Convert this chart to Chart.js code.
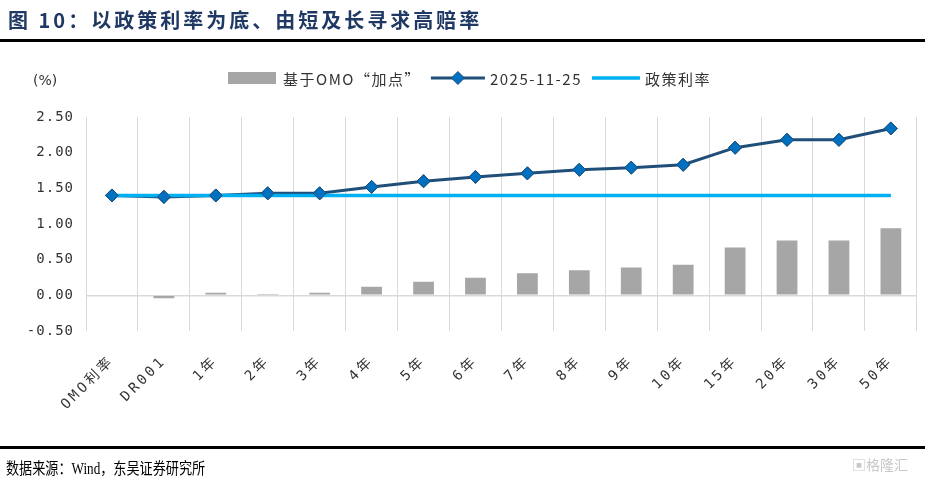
<!DOCTYPE html>
<html>
<head>
<meta charset="utf-8">
<script src="https://cdn.jsdelivr.net/npm/chart.js@4/dist/chart.umd.min.js"></script>
<style>
  html, body { margin: 0; padding: 0; background: #fff; }
  #wrap { position: relative; width: 925px; height: 480px; overflow: hidden; }
  #chart { position: absolute; left: 0; top: 0; }
  .title { position: absolute; left: 8px; top: 5px; font: bold 20px 'Noto Sans CJK SC', sans-serif; letter-spacing: 3px; color: #1f3864; white-space: nowrap; }
  .rule { position: absolute; left: 0; width: 925px; height: 3px; background: #000; }
  .unit { position: absolute; left: 33px; top: 72px; font: 14px 'DejaVu Sans', sans-serif; color: #333; }
  .source { position: absolute; left: 6px; top: 455px; font: 16px 'Liberation Serif', 'Noto Sans CJK SC', serif; color: #000; white-space: nowrap; transform: scaleX(0.82); transform-origin: left top; }
  .mark { position: absolute; left: 852px; top: 454px; font: 14px 'Noto Sans CJK SC', sans-serif; color: #c8c8c8; }
</style>
</head>
<body>
<div id="wrap">
  <canvas id="chart" width="925" height="480"></canvas>
  <div class="title">图 10：以政策利率为底、由短及长寻求高赔率</div>
  <div class="rule" style="top:39px"></div>
  <div class="unit">(%)</div>
  <div class="rule" style="top:446px"></div>
  <div class="source">数据来源：Wind，东吴证券研究所</div>
  <div class="mark">▣格隆汇</div>
</div>
<script>
(function() {

  'use strict';

  var categories = ['OMO利率', 'DR001', '1年', '2年', '3年', '4年', '5年', '6年', '7年', '8年', '9年', '10年', '15年', '20年', '30年', '50年'];

  // spread over OMO, in %
  var spreadValues = [0, -0.04, 0.035, 0.02, 0.035, 0.12, 0.19, 0.245, 0.31, 0.35, 0.39, 0.43, 0.67, 0.77, 0.77, 0.94];

  // yields on 2025-11-25
  var yieldValues = [1.40, 1.38, 1.40, 1.43, 1.43, 1.52, 1.60, 1.66, 1.71, 1.76, 1.79, 1.83, 2.07, 2.18, 2.18, 2.34];

  // policy rate flat line
  var policyValues = [1.40, 1.40, 1.40, 1.40, 1.40, 1.40, 1.40, 1.40, 1.40, 1.40, 1.40, 1.40, 1.40, 1.40, 1.40, 1.40];

  var yTicks = [-0.5, 0, 0.5, 1.0, 1.5, 2.0, 2.5];

  var monoFamily = "'DejaVu Sans Mono', 'Noto Sans CJK SC', monospace";
  var legendFont = "15px 'Noto Sans CJK SC', sans-serif";

  //legend drawn by hand: box for bars, line + diamond for series
  var legendPlugin = {
    id: 'handLegend',
    afterDraw: function(chart) {
      var ctx = chart.ctx;
      var sets = chart.data.datasets;
      var x = 228, y = 78;
      ctx.save();
      ctx.font = legendFont;
      ctx.letterSpacing = '1.5px';
      ctx.textBaseline = 'middle';
      sets.forEach(function(ds, i) {
        if (i === 0) {
          ctx.fillStyle = ds.backgroundColor;
          ctx.fillRect(x, y - 6, 48, 12);
          x += 55;
        } else {
          var len = i === 1 ? 54 : 48;
          ctx.strokeStyle = ds.borderColor;
          ctx.lineWidth = ds.borderWidth;
          ctx.beginPath();
          ctx.moveTo(x, y);
          ctx.lineTo(x + len, y);
          ctx.stroke();
          if (ds.pointRadius) {
            var r = ds.pointRadius, cx = x + len / 2;
            ctx.fillStyle = ds.pointBackgroundColor;
            ctx.strokeStyle = ds.pointBorderColor;
            ctx.lineWidth = ds.pointBorderWidth;
            ctx.beginPath();
            ctx.moveTo(cx, y - r);
            ctx.lineTo(cx + r, y);
            ctx.lineTo(cx, y + r);
            ctx.lineTo(cx - r, y);
            ctx.closePath();
            ctx.fill();
            ctx.stroke();
          }
          x += len + 5;
        }
        ctx.fillStyle = '#333';
        ctx.fillText(ds.label, x, y + 1);
        x += ctx.measureText(ds.label).width + 10;
      });
      ctx.restore();
    }
  };

  //spacing for y labels first, then wider spacing for the x labels (drawn at z 1)
  var spacingPlugin = {
    id: 'spacing',
    beforeDraw: function(chart) {
      chart.ctx.letterSpacing = '1px';
    },
    afterDatasetsDraw: function(chart) {
      //put the diamonds back on top of the policy line
      var meta = chart.getDatasetMeta(1);
      meta.data.forEach(function(pt) {
        pt.draw(chart.ctx, chart.chartArea);
      });
      chart.ctx.letterSpacing = '3px';
    },
    afterDraw: function(chart) {
      chart.ctx.letterSpacing = '0px';
    }
  };

  var ctx = document.getElementById('chart').getContext('2d');

  new Chart(ctx, {
    data: {
      labels: categories,
      datasets: [{
        type: 'bar',
        label: '基于OMO“加点”',
        data: spreadValues,
        backgroundColor: '#a6a6a6',
        barPercentage: 0.4,
        categoryPercentage: 1.0,
        order: 3
      }, {
        type: 'line',
        label: '2025-11-25',
        data: yieldValues,
        borderColor: '#1f4e79',
        borderWidth: 3,
        pointStyle: 'rectRot',
        pointRadius: 6.5,
        pointBackgroundColor: '#0070c0',
        pointBorderColor: '#1f4e79',
        pointBorderWidth: 1,
        tension: 0,
        order: 2
      }, {
        type: 'line',
        label: '政策利率',
        data: policyValues,
        borderColor: '#00b0f0',
        borderWidth: 3.5,
        pointRadius: 0,
        tension: 0,
        order: 1
      }]
    },
    options: {
      responsive: false,
      animation: false,
      layout: { padding: { left: 0, right: 7, top: 117, bottom: 0 } },
      plugins: {
        legend: { display: false },
        tooltip: { enabled: false }
      },
      scales: {
        x: {
          offset: true,
          grid: { display: true, offset: true, color: '#d9d9d9', drawTicks: false },
          border: { display: false },
          ticks: {
            font: { family: monoFamily, size: 14 },
            color: '#333',
            minRotation: 45,
            maxRotation: 45,
            autoSkip: false,
            padding: 22,
            z: 1
          },
          afterFit: function(scale) { scale.height = 149; }
        },
        y: {
          min: -0.5,
          max: 2.5,
          afterBuildTicks: function(scale) {
            scale.ticks = yTicks.map(function(v) { return { value: v }; });
          },
          grid: {
            drawTicks: false,
            color: function(c) { return c.tick && c.tick.value === 0 ? '#d9d9d9' : 'rgba(0,0,0,0)'; },
            lineWidth: 1.5
          },
          border: { display: false },
          ticks: {
            font: { family: monoFamily, size: 14 },
            color: '#333',
            padding: 12,
            callback: function(v) { return v.toFixed(2); }
          },
          afterFit: function(scale) { scale.width = 86; }
        }
      }
    },
    plugins: [legendPlugin, spacingPlugin]
  });

})();
</script>
</body>
</html>
